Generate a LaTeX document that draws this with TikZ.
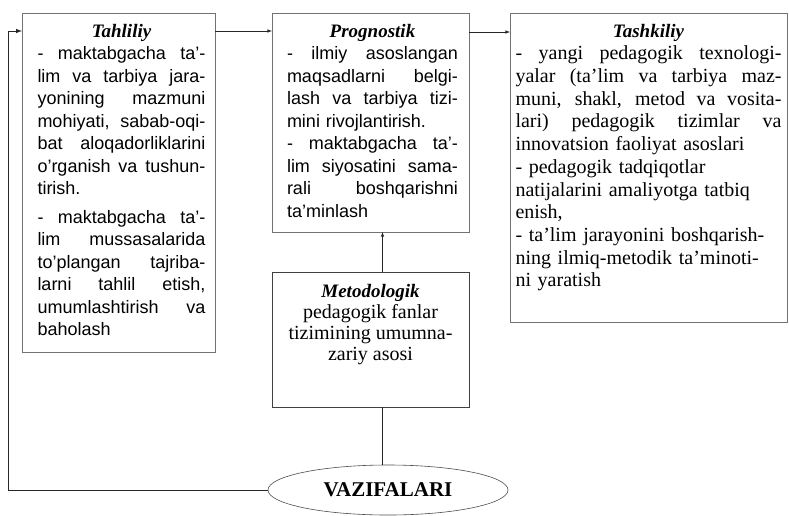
\documentclass[tikz,border=0pt]{standalone}
\usepackage{fontspec}
\setmainfont{Liberation Serif}
\setsansfont{Liberation Sans}
\usetikzlibrary{calc,positioning,shapes,arrows}

\newcommand{\jl}[1]{\makebox[\hsize][s]{\spaceskip=0pt\xspaceskip=0pt #1}}
\newcommand{\ttl}[1]{{\rmfamily\bfseries\itshape\fontsize{19}{22}\selectfont #1}}

\begin{document}
\begin{tikzpicture}[x=1pt,y=-1pt,inner sep=0pt,outer sep=0pt,
  box/.style={draw=black!55,line width=0.6pt,anchor=north west},
  sanstxt/.style={anchor=north,align=left,font=\sffamily\fontsize{18}{22.5}\selectfont},
  seriftxt/.style={anchor=north,align=left,font=\rmfamily\fontsize{20}{22.7}\selectfont},
  arr/.style={-latex,line width=0.6pt,draw=black!85},
  ln/.style={line width=0.6pt,draw=black!85}]
\useasboundingbox (0,0) rectangle (789,515);
\node[box,minimum width=193,minimum height=339] (tah) at (22,13) {};
\node[box,minimum width=197,minimum height=219] (prog) at (272,13) {};
\node[box,minimum width=277,minimum height=309] (tash) at (510,13) {};
\node[box,draw=black!75,minimum width=197,minimum height=135] (met) at (272,272) {};
\node[draw=black!70,line width=0.6pt,ellipse,minimum width=240,minimum height=50] (vaz) at (388,490)
  {\rmfamily\bfseries\fontsize{21}{24}\selectfont VAZIFALARI};
\node[sanstxt,text width=168] (tahtxt) at ([xshift=3,yshift=-11]tah.north) {%
  \hfil\ttl{Tahliliy}\hfil\\
  \jl{- maktabgacha ta'-}\\
  \jl{lim va tarbiya jara-}\\
  \jl{yonining mazmuni}\\
  \jl{mohiyati, sabab-oqi-}\\
  \jl{bat aloqadorliklarini}\\
  \jl{o'rganish va tushun-}\\
  tirish.\\[6pt]
  \jl{- maktabgacha ta'-}\\
  \jl{lim mussasalarida}\\
  \jl{to'plangan tajriba-}\\
  \jl{larni tahlil etish,}\\
  \jl{umumlashtirish va}\\
  baholash};
\node[sanstxt,text width=171] (progtxt) at ([xshift=2,yshift=-11]prog.north) {%
  \hfil\ttl{Prognostik}\hfil\\
  \jl{- ilmiy asoslangan}\\
  \jl{maqsadlarni belgi-}\\
  \jl{lash va tarbiya tizi-}\\
  mini rivojlantirish.\\
  \jl{- maktabgacha ta'-}\\
  \jl{lim siyosatini sama-}\\
  \jl{rali boshqarishni}\\
  ta'minlash};
\node[seriftxt,text width=266] (tashtxt) at ([yshift=-11]tash.north) {%
  \hfil\ttl{Tashkiliy}\hfil\\
  \jl{- yangi pedagogik texnologi-}\\
  \jl{yalar (ta'lim va tarbiya maz-}\\
  \jl{muni, shakl, metod va vosita-}\\
  \jl{lari) pedagogik tizimlar va}\\
  innovatsion faoliyat asoslari\\
  - pedagogik tadqiqotlar\\
  natijalarini amaliyotga tatbiq\\
  enish,\\
  - ta'lim jarayonini boshqarish-\\
  ning ilmiq-metodik ta'minoti-\\
  ni yaratish};
\node[seriftxt,align=center,font=\rmfamily\fontsize{20}{21}\selectfont] (mettxt) at ([yshift=-12]met.north) {%
  \ttl{Metodologik}\\
  pedagogik fanlar\\
  tizimining umumna-\\
  zariy asosi};
\coordinate (fb) at (8,490);
\draw[arr] ([yshift=-18]tah.north east) -- ([yshift=-18]prog.north west);
\draw[arr] ([yshift=-19]prog.north east) -- ([yshift=-19]tash.north west);
\draw[arr] ([xshift=12]met.north) -- ([xshift=12]prog.south);
\draw[ln] ([xshift=12]met.south) -- ([xshift=12]met.south |- vaz.north);
\draw[arr,line width=1pt] (vaz.west) -- (fb) |- ([yshift=-18]tah.north west);
\end{tikzpicture}
\end{document}
